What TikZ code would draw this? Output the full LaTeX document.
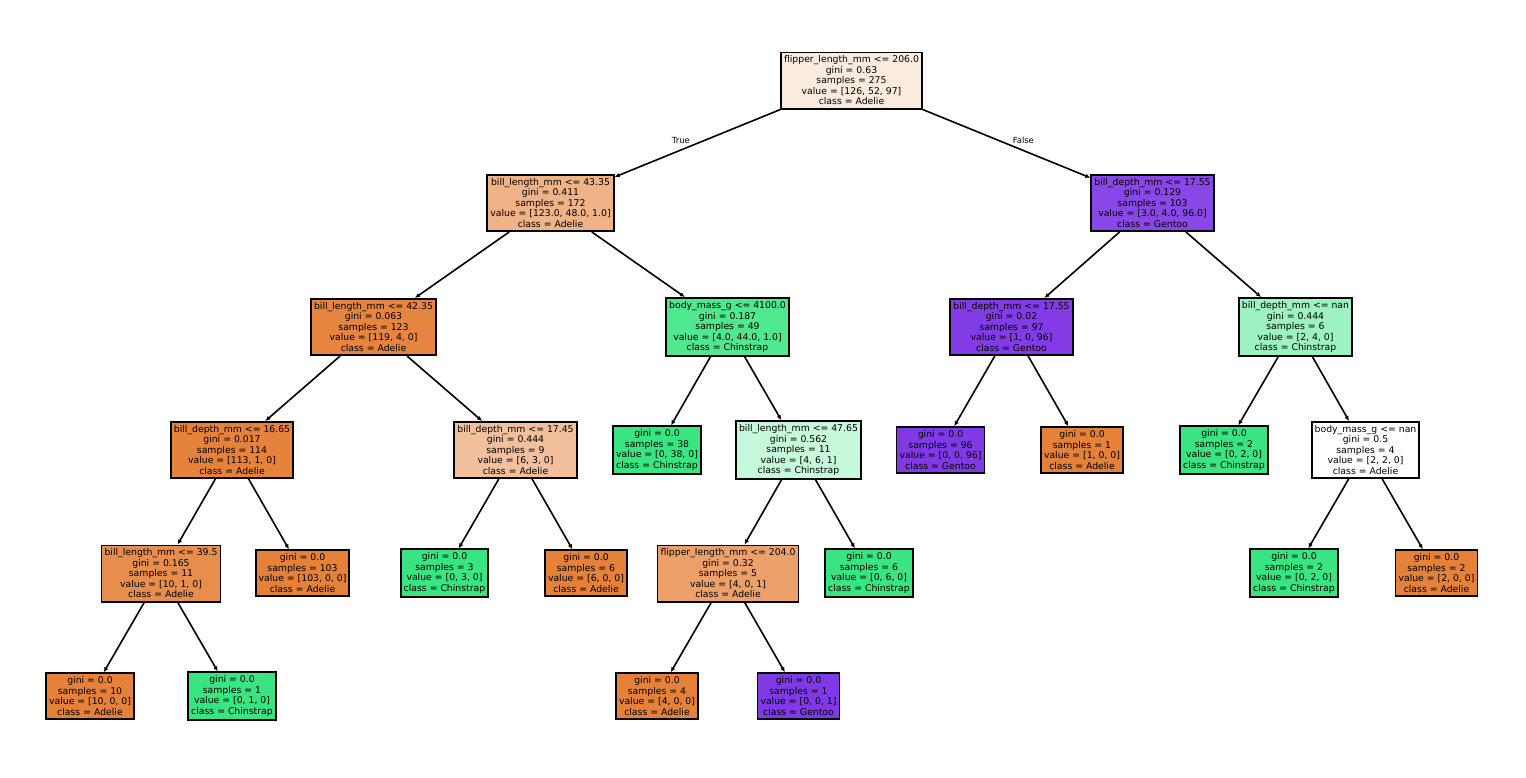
\documentclass[tikz,border=0pt]{standalone}
\usepackage{fontspec}
\setmainfont{DejaVu Sans}
\usetikzlibrary{arrows.meta}
\definecolor{adelie}{RGB}{229,129,57}
\definecolor{chinstrap}{RGB}{57,229,129}
\definecolor{gentoo}{RGB}{129,57,229}
\definecolor{cRoot}{RGB}{251,235,223}
\definecolor{cL}{RGB}{239,179,135}
\definecolor{cR}{RGB}{138,71,231}
\definecolor{cLL}{RGB}{230,133,64}
\definecolor{cLR}{RGB}{79,232,143}
\definecolor{cRL}{RGB}{130,59,229}
\definecolor{cRR}{RGB}{156,242,192}
\definecolor{cLLL}{RGB}{229,130,59}
\definecolor{cLLR}{RGB}{242,192,156}
\definecolor{cLRR}{RGB}{198,248,219}
\definecolor{cLLLL}{RGB}{232,142,77}
\definecolor{cLRRL}{RGB}{236,161,107}
\tikzset{
	treenode/.style={draw, line width=1.8pt, align=center, inner xsep=3pt, inner ysep=3.5pt,
		font=\fontsize{9.3}{10.5}\selectfont},
	branch/.style={line width=1.6pt, -{Latex[length=5pt,width=4.5pt]}},
	branchlabel/.style={font=\fontsize{8.4}{10}\selectfont, inner sep=1pt}
}
\begin{document}
\begin{tikzpicture}[x=1pt,y=-1pt]
		\useasboundingbox (0,0) rectangle (1526,777);
		\node[treenode,fill=cRoot] (root) at (851.5,80.5) {flipper\_length\_mm <= 206.0\\gini = 0.63\\samples = 275\\value = [126, 52, 97]\\class = Adelie};
		\node[treenode,fill=cL] (L) at (550.5,203) {bill\_length\_mm <= 43.35\\gini = 0.411\\samples = 172\\value = [123.0, 48.0, 1.0]\\class = Adelie};
		\node[treenode,fill=cR] (R) at (1152.5,203) {bill\_depth\_mm <= 17.55\\gini = 0.129\\samples = 103\\value = [3.0, 4.0, 96.0]\\class = Gentoo};
		\node[treenode,fill=cLL] (LL) at (373.5,327) {bill\_length\_mm <= 42.35\\gini = 0.063\\samples = 123\\value = [119, 4, 0]\\class = Adelie};
		\node[treenode,fill=cLR] (LR) at (727.5,327) {body\_mass\_g <= 4100.0\\gini = 0.187\\samples = 49\\value = [4.0, 44.0, 1.0]\\class = Chinstrap};
		\node[treenode,fill=cRL] (RL) at (1011.5,327) {bill\_depth\_mm <= 17.55\\gini = 0.02\\samples = 97\\value = [1, 0, 96]\\class = Gentoo};
		\node[treenode,fill=cRR] (RR) at (1295.5,327) {bill\_depth\_mm <= nan\\gini = 0.444\\samples = 6\\value = [2, 4, 0]\\class = Chinstrap};
		\node[treenode,fill=cLLL] (LLL) at (232,450) {bill\_depth\_mm <= 16.65\\gini = 0.017\\samples = 114\\value = [113, 1, 0]\\class = Adelie};
		\node[treenode,fill=cLLR] (LLR) at (515.5,450) {bill\_depth\_mm <= 17.45\\gini = 0.444\\samples = 9\\value = [6, 3, 0]\\class = Adelie};
		\node[treenode,fill=chinstrap] (LRL) at (657,450) {gini = 0.0\\samples = 38\\value = [0, 38, 0]\\class = Chinstrap};
		\node[treenode,fill=cLRR] (LRR) at (798.5,450) {bill\_length\_mm <= 47.65\\gini = 0.562\\samples = 11\\value = [4, 6, 1]\\class = Chinstrap};
		\node[treenode,fill=gentoo] (RLL) at (940.5,450) {gini = 0.0\\samples = 96\\value = [0, 0, 96]\\class = Gentoo};
		\node[treenode,fill=adelie] (RLR) at (1082,450) {gini = 0.0\\samples = 1\\value = [1, 0, 0]\\class = Adelie};
		\node[treenode,fill=chinstrap] (RRL) at (1224,450) {gini = 0.0\\samples = 2\\value = [0, 2, 0]\\class = Chinstrap};
		\node[treenode,fill=white] (RRR) at (1365.5,450) {body\_mass\_g <= nan\\gini = 0.5\\samples = 4\\value = [2, 2, 0]\\class = Adelie};
		\node[treenode,fill=cLLLL] (LLLL) at (161,573.5) {bill\_length\_mm <= 39.5\\gini = 0.165\\samples = 11\\value = [10, 1, 0]\\class = Adelie};
		\node[treenode,fill=adelie] (LLLR) at (302.5,573) {gini = 0.0\\samples = 103\\value = [103, 0, 0]\\class = Adelie};
		\node[treenode,fill=chinstrap] (LLRL) at (444.5,573) {gini = 0.0\\samples = 3\\value = [0, 3, 0]\\class = Chinstrap};
		\node[treenode,fill=adelie] (LLRR) at (586,573) {gini = 0.0\\samples = 6\\value = [6, 0, 0]\\class = Adelie};
		\node[treenode,fill=cLRRL] (LRRL) at (728,573.5) {flipper\_length\_mm <= 204.0\\gini = 0.32\\samples = 5\\value = [4, 0, 1]\\class = Adelie};
		\node[treenode,fill=chinstrap] (LRRR) at (869,573) {gini = 0.0\\samples = 6\\value = [0, 6, 0]\\class = Chinstrap};
		\node[treenode,fill=chinstrap] (RRRL) at (1294,573) {gini = 0.0\\samples = 2\\value = [0, 2, 0]\\class = Chinstrap};
		\node[treenode,fill=adelie] (RRRR) at (1436.5,573) {gini = 0.0\\samples = 2\\value = [2, 0, 0]\\class = Adelie};
		\node[treenode,fill=adelie] (LLLLL) at (90,696) {gini = 0.0\\samples = 10\\value = [10, 0, 0]\\class = Adelie};
		\node[treenode,fill=chinstrap] (LLLLR) at (232,696) {gini = 0.0\\samples = 1\\value = [0, 1, 0]\\class = Chinstrap};
		\node[treenode,fill=adelie] (LRRLL) at (657,696) {gini = 0.0\\samples = 4\\value = [4, 0, 0]\\class = Adelie};
		\node[treenode,fill=gentoo] (LRRLR) at (798.5,696) {gini = 0.0\\samples = 1\\value = [0, 0, 1]\\class = Gentoo};
		% branches
		\draw[branch] (root)--(L)node[branchlabel,pos=.6,above=5pt]{True};
		\draw[branch] (root)--(R)node[branchlabel,pos=.6,above=5pt]{False};
		\foreach \p/\c in {L/LL,L/LR,R/RL,R/RR,LL/LLL,LL/LLR,LR/LRL,LR/LRR,RL/RLL,RL/RLR,RR/RRL,RR/RRR,
			LLL/LLLL,LLL/LLLR,LLR/LLRL,LLR/LLRR,LRR/LRRL,LRR/LRRR,RRR/RRRL,RRR/RRRR,
			LLLL/LLLLL,LLLL/LLLLR,LRRL/LRRLL,LRRL/LRRLR}
			\draw[branch] (\p)--(\c);
		\end{tikzpicture}
\end{document}
